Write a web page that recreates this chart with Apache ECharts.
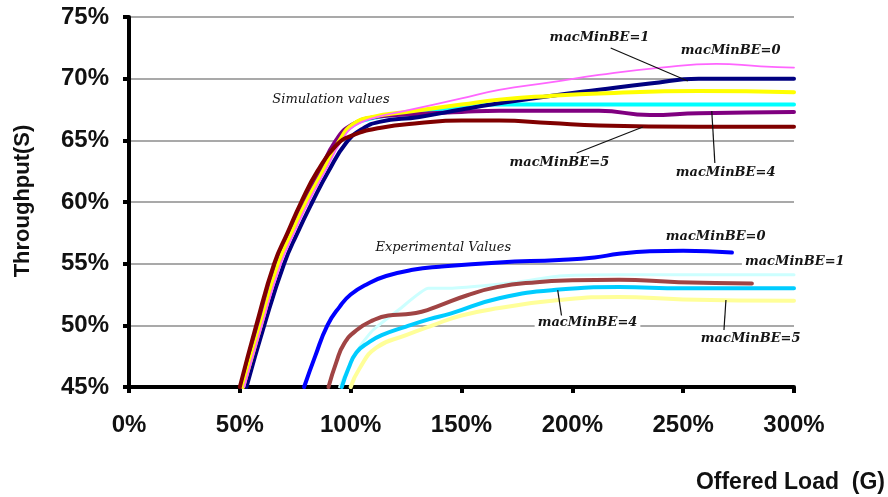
<!DOCTYPE html>
<html>
<head>
<meta charset="utf-8">
<script src="https://cdn.jsdelivr.net/npm/echarts@6/dist/echarts.min.js"></script>
<style>
  html, body { margin: 0; padding: 0; background: #ffffff; }
  #chart { width: 888px; height: 497px; }
</style>
</head>
<body>
<div id="chart"></div>
<script>
// Axis ticks (percent)
const loadTicks = [0, 50, 100, 150, 200, 250, 300];
const throughputTicks = [45, 50, 55, 60, 65, 70, 75];

// Simulation curves: [offered load %, throughput %]
const simBE0 = [[52,45],[60,50],[68.5,55],[74.5,57.5],[81,60],[88.5,62.5],[96,65],[102,66.2],[112,66.9],[125,67.4],[150,68.4],[167,69.1],[190,69.7],[212,70.3],[240,70.9],[265,71.2],[285,71.0],[300,70.9]];
const simBE1 = [[53,45],[61,50],[70,55],[76,57.5],[82.7,60],[90,62.5],[98,64.8],[105,65.9],[113,66.5],[131,66.9],[150,67.5],[167,68.0],[190,68.6],[212,69.1],[235,69.6],[257,70.0],[300,70.0]];
const simBE2 = [[51.5,45],[59.5,50],[67.5,55],[73.5,57.5],[80,60],[87.5,62.5],[95,65],[101,66.3],[110,66.9],[125,67.3],[150,67.9],[167,68.3],[190,68.6],[212,68.8],[257,69.0],[300,68.9]];
const simBE3 = [[51,45],[59,50],[67,55],[73,57.5],[79.5,60],[87,62.5],[94.5,65],[101,66.2],[110,66.8],[125,67.2],[150,67.7],[167,67.9],[212,67.9],[257,67.9],[300,67.9]];
const simBE4 = [[50.5,45],[58,50],[66,55],[72,57.5],[78.5,60],[86,62.5],[93,64.9],[100,66.2],[111.6,66.9],[125,67.1],[150,67.3],[167,67.4],[212,67.4],[235,67.05],[257,67.2],[300,67.3]];
const simBE5 = [[50,45],[57.4,50],[65.5,55],[71.5,57.5],[77.7,60],[85,62.5],[93.5,64.6],[100.8,65.4],[113,66.0],[131,66.4],[150,66.6],[167,66.6],[190,66.4],[212,66.2],[257,66.1],[300,66.1]];

// Experimental curves: [offered load %, throughput %]
const expBE0 = [[79,45],[84,47.5],[89.5,50],[95,51.5],[100,52.5],[108,53.4],[116,54],[128,54.5],[140,54.75],[167,55.1],[194,55.3],[210,55.5],[221,55.8],[235,56],[250,56.05],[272,55.9]];
const expBE1 = [[95,45],[100,47],[105,48.5],[110,49.6],[122,51.3],[135,53],[145,53],[160,53.2],[175,53.5],[194,54.0],[220,54.1],[300,54.1]];
const expBE2 = [[90,45],[93.5,47],[97,48.5],[102.6,49.6],[110,50.4],[117,50.8],[125,50.9],[132,51.1],[140,51.6],[152,52.4],[166,53.1],[184,53.5],[200,53.65],[221,53.7],[248,53.5],[281,53.4]];
const expBE4 = [[96,45],[99,46.5],[102.6,47.8],[108,48.6],[114,49.2],[125,49.9],[135.5,50.5],[145,50.95],[167,52.2],[194,52.9],[221,53.1],[250,53.0],[300,53.0]];
const expBE5 = [[100,45],[104,46.5],[111.6,48.2],[125,49.2],[137,50.0],[150,50.8],[167,51.4],[194,52.05],[221,52.3],[250,52.1],[300,52.0]];

// Annotation texts anchored in data space (left edge, vertical centre)
const noteTexts = ['Simulation values', 'macMinBE=1', 'macMinBE=0', 'macMinBE=5', 'macMinBE=4',
                   'Experimental Values', 'macMinBE=0', 'macMinBE=1', 'macMinBE=4', 'macMinBE=5'];
const noteAnchors = [[63.3,68.27],[188.4,73.3],[247.6,72.3],[170.3,63.16],[245.3,62.35],
                     [109.8,56.27],[240.8,57.16],[276.5,55.13],[183.0,50.19],[256.6,48.89]];
// Leader lines from labels to curves
const leaderLines = [
  [[217.3,72.49],[252.1,69.81]],
  [[202.0,63.97],[231.8,66.08]],
  [[262.9,67.38],[264.3,63.16]],
  [[193.4,52.86],[195.2,50.68]],
  [[269.3,52.05],[268.4,49.62]]
];

const chart = echarts.init(document.getElementById('chart'), null, { renderer: 'canvas' });

function curve(name, data, color, width, z, smooth) {
  return {
    name: name,
    type: 'line',
    data: data,
    smooth: smooth,
    showSymbol: false,
    symbol: 'none',
    z: z,
    clip: true,
    lineStyle: { color: color, width: width, cap: 'round', join: 'round' }
  };
}

const axisFont = { fontFamily: 'Liberation Sans, Arial, sans-serif', fontWeight: 'bold', fontSize: 24, color: '#111' };

chart.setOption({
  animation: false,
  backgroundColor: '#ffffff',
  grid: { left: 129, right: 94, top: 17, bottom: 110, containLabel: false },
  xAxis: {
    type: 'value',
    min: loadTicks[0],
    max: loadTicks[loadTicks.length - 1],
    interval: loadTicks[1] - loadTicks[0],
    axisLine: { show: true, onZero: false, lineStyle: { color: '#000', width: 4 } },
    axisTick: { show: true, length: 6, lineStyle: { color: '#000', width: 4 } },
    splitLine: { show: false },
    axisLabel: Object.assign({ margin: 26, formatter: '{value}%' }, axisFont)
  },
  yAxis: {
    type: 'value',
    min: throughputTicks[0],
    max: throughputTicks[throughputTicks.length - 1],
    interval: throughputTicks[1] - throughputTicks[0],
    axisLine: { show: true, onZero: false, lineStyle: { color: '#000', width: 4 } },
    axisTick: { show: true, length: 6, lineStyle: { color: '#000', width: 4 } },
    splitLine: { show: true, lineStyle: { color: '#8c8c8c', width: 1.5 } },
    axisLabel: Object.assign({ margin: 20, formatter: '{value}%' }, axisFont)
  },
  series: [
    curve('Simulation macMinBE=3', simBE3, '#00ffff', 4, 2, 0.5),
    curve('Simulation macMinBE=4', simBE4, '#800080', 4, 3, 0.5),
    curve('Simulation macMinBE=1', simBE1, '#000080', 4, 4, 0.5),
    curve('Simulation macMinBE=2', simBE2, '#ffff00', 4, 5, 0.5),
    curve('Simulation macMinBE=0', simBE0, '#ff66ff', 1.8, 6, 0.5),
    curve('Simulation macMinBE=5', simBE5, '#800000', 4, 7, 0.5),
    curve('Experimental macMinBE=1', expBE1, '#ccffff', 3, 2, 0.15),
    curve('Experimental macMinBE=5', expBE5, '#ffff99', 4, 3, 0.5),
    curve('Experimental macMinBE=4', expBE4, '#00ccff', 4, 4, 0.5),
    curve('Experimental macMinBE=2', expBE2, '#a04444', 4, 5, 0.5),
    curve('Experimental macMinBE=0', expBE0, '#0000ff', 4, 6, 0.5)
  ]
});

// Annotations placed through the grid's coordinate system
function toPx(p) { return chart.convertToPixel({ gridIndex: 0 }, p); }
const graphics = [];
leaderLines.forEach(function (seg) {
  const a = toPx(seg[0]), b = toPx(seg[1]);
  graphics.push({ type: 'line', z: 50, shape: { x1: a[0], y1: a[1], x2: b[0], y2: b[1] },
                  style: { stroke: '#111', lineWidth: 1.2 } });
});
noteTexts.forEach(function (t, i) {
  const p = toPx(noteAnchors[i]);
  const caption = (t === 'Simulation values' || t === 'Experimental Values');
  graphics.push({
    type: 'text', z: 60, x: p[0], y: p[1],
    style: {
      text: t,
      fill: '#151515',
      font: (caption ? 'italic normal ' : 'italic bold ') + '13px "DejaVu Serif", serif',
      textAlign: 'left',
      textVerticalAlign: 'middle',
      backgroundColor: '#ffffff',
      padding: [1, 3]
    }
  });
});
// Axis titles
graphics.push({
  type: 'text', z: 60, x: 23, y: 201, rotation: Math.PI / 2,
  style: { text: 'Throughput(S)', fill: '#111', font: 'bold 22px "Liberation Sans", Arial, sans-serif',
           textAlign: 'center', textVerticalAlign: 'middle' }
});
graphics.push({
  type: 'text', z: 60, x: 885, y: 483,
  style: { text: 'Offered Load  (G)', fill: '#111', font: 'bold 23px "Liberation Sans", Arial, sans-serif',
           textAlign: 'right', textVerticalAlign: 'middle' }
});
chart.setOption({ graphic: graphics });
</script>
</body>
</html>
